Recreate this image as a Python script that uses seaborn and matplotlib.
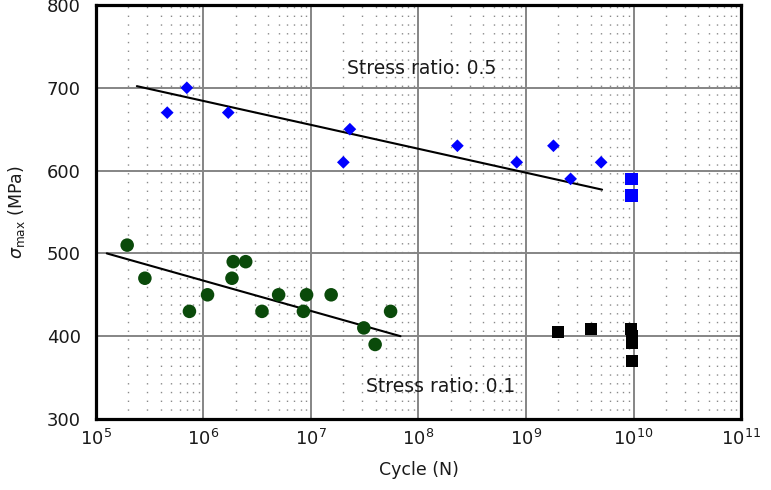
import numpy as np
import pandas as pd
import matplotlib
matplotlib.use("Agg")
import matplotlib.pyplot as plt
from matplotlib.ticker import LogLocator, LogFormatterMathtext
import seaborn as sns

# Stress ratio 0.5 – failures
r05_cycles = [4.6e5, 7.0e5, 1.7e6, 2.3e7, 2.0e7, 2.3e8, 8.2e8, 1.8e9, 2.6e9, 5.0e9]
r05_stress = [670, 700, 670, 650, 610, 630, 610, 630, 590, 610]
# Stress ratio 0.5 – run-outs
r05_runout_cycles = [9.6e9, 9.6e9]
r05_runout_stress = [590, 570]
# Stress ratio 0.5 – fitted S-N line
r05_fit_cycles = [2.4e5, 5.1e9]
r05_fit_stress = [702, 577]

# Stress ratio 0.1 – failures
r01_cycles = [1.95e5, 2.85e5, 7.4e5, 1.09e6, 1.89e6, 2.47e6, 1.84e6, 3.5e6,
              5.0e6, 9.1e6, 8.5e6, 1.54e7, 3.1e7, 3.95e7, 5.5e7]
r01_stress = [510, 470, 430, 450, 490, 490, 470, 430,
              450, 450, 430, 450, 410, 390, 430]
# Stress ratio 0.1 – run-outs
r01_runout_cycles = [2.0e9, 4.0e9, 9.5e9, 9.7e9, 9.7e9, 9.7e9]
r01_runout_stress = [405, 409, 409, 400, 392, 370]
# Stress ratio 0.1 – fitted S-N line
r01_fit_cycles = [1.26e5, 6.8e7]
r01_fit_stress = [500, 400]

y_ticks = [300, 400, 500, 600, 700, 800]

sns.set_theme(style="white")
plt.rcParams["font.family"] = ["DejaVu Sans"]

fig = plt.figure(figsize=(7.71, 4.90), dpi=100)
ax = fig.add_axes([0.1245, 0.1449, 0.8366, 0.8449])

blue = "#0000ff"
green = "#0a4a0a"

sns.lineplot(x=r05_fit_cycles, y=r05_fit_stress, ax=ax, color="black",
             linewidth=1.5, zorder=3)
sns.lineplot(x=r01_fit_cycles, y=r01_fit_stress, ax=ax, color="black",
             linewidth=1.5, zorder=3)

sns.scatterplot(x=r05_cycles, y=r05_stress, ax=ax, marker="D", s=42,
                color=blue, edgecolor="none", zorder=4)
sns.scatterplot(x=r05_runout_cycles, y=r05_runout_stress, ax=ax, marker="s",
                s=78, color=blue, edgecolor="none", zorder=4)
sns.scatterplot(x=r01_cycles, y=r01_stress, ax=ax, marker="o", s=95,
                color=green, edgecolor="none", zorder=4)
sns.scatterplot(x=r01_runout_cycles, y=r01_runout_stress, ax=ax, marker="s",
                s=78, color="black", edgecolor="none", zorder=4)

ax.set_xscale("log")
ax.set_xlim(1e5, 1e11)
ax.set_ylim(300, 800)
ax.set_yticks(y_ticks)
ax.xaxis.set_major_locator(LogLocator(base=10, numticks=10))
ax.xaxis.set_major_formatter(LogFormatterMathtext())
ax.xaxis.set_minor_locator(LogLocator(base=10, subs=np.arange(2, 10), numticks=20))

ax.grid(True, which="major", axis="both", color="#858585", linewidth=1.4, zorder=1)
ax.grid(True, which="minor", axis="x", color="#8a8a8a", linewidth=1.0,
        linestyle=(0, (1, 5.3)), zorder=1)
ax.set_axisbelow(True)

for sp in ax.spines.values():
    sp.set_color("black")
    sp.set_linewidth(2.3)
    sp.set_zorder(5)

ax.tick_params(axis="both", which="both", length=0, labelsize=13, colors="#1a1a1a")
ax.tick_params(axis="y", pad=11)
ax.tick_params(axis="x", pad=7)

ax.set_xlabel("Cycle (N)", fontsize=12.5, color="#1a1a1a", labelpad=9)
ax.set_ylabel(r"$\sigma_{\mathrm{max}}$ (MPa)", fontsize=12.5, color="#1a1a1a",
              labelpad=14)

ax.text(1.07e8, 723, "Stress ratio: 0.5", fontsize=13.5, ha="center",
        va="center", color="#1a1a1a", zorder=6)
ax.text(1.62e8, 339, "Stress ratio: 0.1", fontsize=13.5, ha="center",
        va="center", color="#1a1a1a", zorder=6)

fig.savefig("out.png", dpi=100)
